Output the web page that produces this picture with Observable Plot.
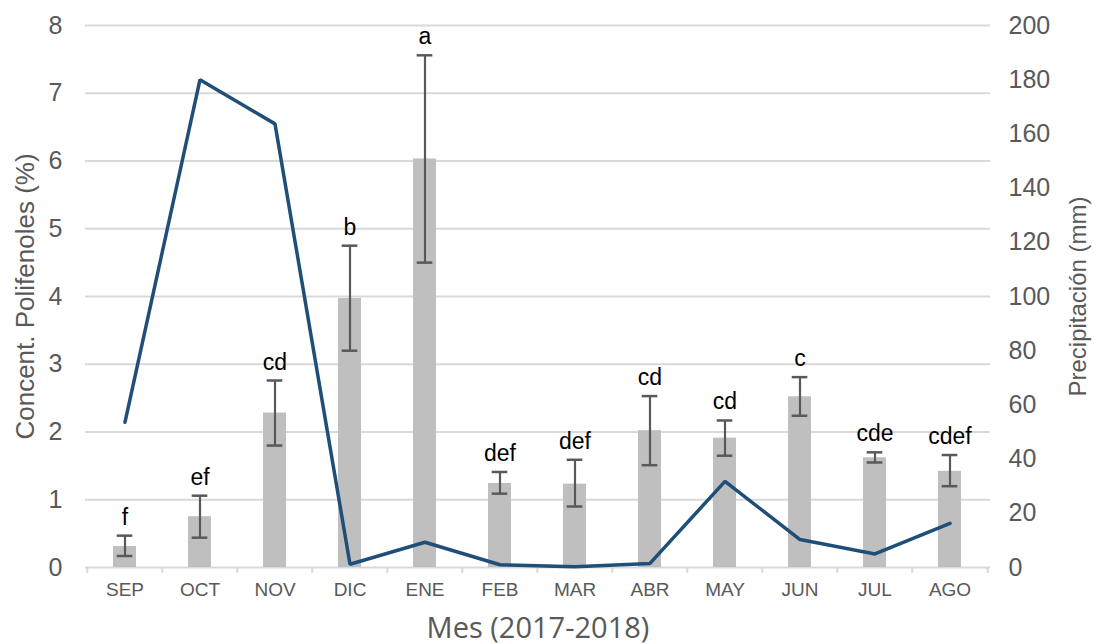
<!DOCTYPE html>
<html>
<head>
<meta charset="utf-8">
<script src="https://cdn.jsdelivr.net/npm/d3@7"></script>
<script src="https://cdn.jsdelivr.net/npm/@observablehq/plot@0.6"></script>
<style>
  html, body { margin: 0; padding: 0; background: #fff; }
  #chart svg { display: block; }
</style>
</head>
<body>
<div id="chart"></div>
<script>
const months = ["SEP","OCT","NOV","DIC","ENE","FEB","MAR","ABR","MAY","JUN","JUL","AGO"];
const polifenoles = [0.31,0.75,2.28,3.97,6.03,1.24,1.23,2.02,1.91,2.52,1.62,1.42];
const errLow  = [0.17,0.44,1.80,3.20,4.50,1.09,0.90,1.51,1.65,2.24,1.55,1.20];
const errHigh = [0.47,1.06,2.76,4.75,7.56,1.41,1.59,2.53,2.17,2.81,1.70,1.66];
const letras = ["f","ef","cd","b","a","def","def","cd","cd","c","cde","cdef"];
const precipitacion = [53.6,180,163.7,1.2,9.3,1.0,0.3,1.5,31.8,10.3,5.0,16.3];
const leftTicks = [0,1,2,3,4,5,6,7,8];
const rightTicks = [0,20,40,60,80,100,120,140,160,180,200];
const ratio = 25; // 8 (%) <-> 200 (mm)

const data = months.map((m, i) => ({
  mes: m, pol: polifenoles[i], lo: errLow[i], hi: errHigh[i],
  letra: letras[i], prec: precipitacion[i]
}));

const W = 1096, H = 644, mL = 85, mR = 106, mT = 25, mB = 77;
const padIn = 0.69;
const step = (W - mL - mR) / months.length;
const bandW = step * (1 - padIn);
const capW = 16;
const gray = "#595959";

const chart = Plot.plot({
  width: W, height: H,
  marginLeft: mL, marginRight: mR, marginTop: mT, marginBottom: mB,
  style: { fontFamily: "'Liberation Sans', Arial, sans-serif", background: "#fff" },
  x: { domain: months, type: "band", paddingInner: padIn, paddingOuter: padIn / 2, label: null },
  y: { domain: [0, 8], label: null },
  marks: [
    Plot.ruleY(leftTicks.filter(d => d > 0), { stroke: "#d9d9d9", strokeWidth: 2 }),
    Plot.ruleY([0], { stroke: "#d9d9d9", strokeWidth: 2 }),
    Plot.ruleX(months, { x: d => d, y1: 0, y2: 0, insetBottom: -6, dx: -step / 2, stroke: "#d9d9d9", strokeWidth: 2 }),
    Plot.ruleX([months[months.length - 1]], { x: d => d, y1: 0, y2: 0, insetBottom: -6, dx: step / 2, stroke: "#d9d9d9", strokeWidth: 2 }),
    Plot.barY(data, { x: "mes", y: "pol", fill: "#bfbfbf" }),
    Plot.ruleX(data, { x: "mes", y1: "lo", y2: "hi", stroke: gray, strokeWidth: 2.2 }),
    Plot.tickY(data, { x: "mes", y: "lo", stroke: gray, strokeWidth: 2.5, insetLeft: (bandW - capW) / 2, insetRight: (bandW - capW) / 2 }),
    Plot.tickY(data, { x: "mes", y: "hi", stroke: gray, strokeWidth: 2.5, insetLeft: (bandW - capW) / 2, insetRight: (bandW - capW) / 2 }),
    Plot.line(data, { x: "mes", y: d => d.prec / ratio, stroke: "#1f4e79", strokeWidth: 3.5, strokeLinejoin: "miter" }),
    Plot.text(data, { x: "mes", y: "hi", text: "letra", dy: -11, lineAnchor: "bottom", fontSize: 23, fill: "#000" }),
    Plot.axisX({ tickSize: 0, tickPadding: 15, fontSize: 19, fill: gray, label: null }),
    Plot.axisY(leftTicks, { anchor: "left", tickSize: 0, tickPadding: 23, fontSize: 25, fill: gray, label: null, tickFormat: d => String(d) }),
    Plot.axisY(rightTicks.map(v => v / ratio), { anchor: "right", tickSize: 0, tickPadding: 18, fontSize: 25, fill: gray, label: null, tickFormat: d => String(Math.round(d * ratio)) }),
    Plot.text(["Concent. Polifenoles (%)"], { frameAnchor: "left", textAnchor: "middle", rotate: -90, dx: -60, fontSize: 26, fill: gray }),
    Plot.text(["Precipitación (mm)"], { frameAnchor: "right", textAnchor: "middle", rotate: -90, dx: 88, fontSize: 24, fill: gray }),
    Plot.text(["Mes (2017-2018)"], { frameAnchor: "bottom", dy: 70, fontSize: 29, fill: gray, fontFamily: "'Open Sans', sans-serif" })
  ]
});
document.getElementById("chart").appendChild(chart);
</script>
</body>
</html>
